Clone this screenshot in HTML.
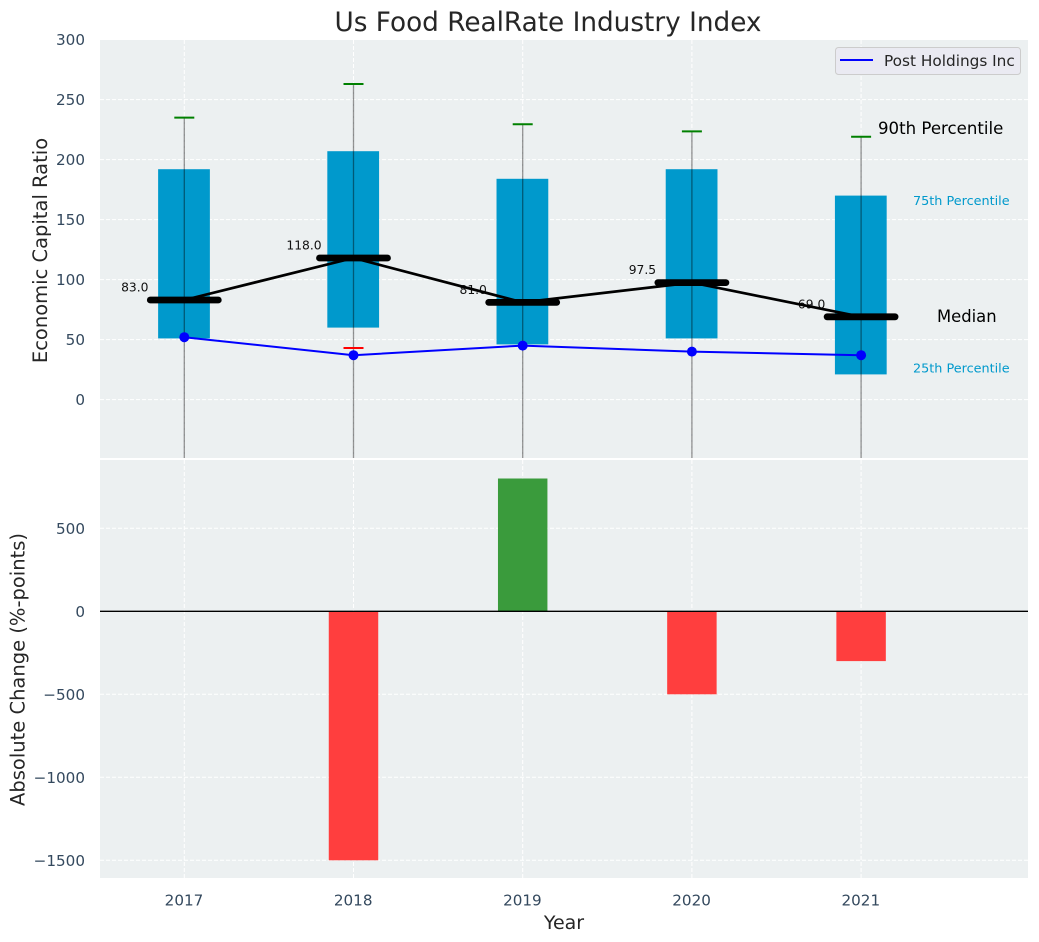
<!DOCTYPE html>
<html lang="en">
<head>
<meta charset="utf-8">
<title>Us Food RealRate Industry Index</title>
<style>
html,body{margin:0;padding:0;background:#fff;width:1039px;height:942px;overflow:hidden}
svg{display:block}
text{font-family:"DejaVu Sans","Liberation Sans",sans-serif}
</style>
</head>
<body>
<svg id="chart" xmlns="http://www.w3.org/2000/svg" width="1039" height="942" viewBox="0 0 1039 942">
  <defs>
    <clipPath id="clip-top"><rect x="100" y="40" width="928" height="418"/></clipPath>
    <clipPath id="clip-bottom"><rect x="100" y="460" width="928" height="418"/></clipPath>
  </defs>
  <rect x="100" y="40" width="928" height="418" fill="#ecf0f1"/>
  <rect x="100" y="460" width="928" height="418" fill="#ecf0f1"/>
  <g id="grid-layer"></g>
  <g id="bottom-layer" clip-path="url(#clip-bottom)"></g>
  <g id="top-layer" clip-path="url(#clip-top)"></g>
  <g id="tick-layer"></g>
  <text x="548" y="31" text-anchor="middle" font-size="26.3" fill="#262626">Us Food RealRate Industry Index</text>
  <text transform="translate(47,250.5) rotate(-90)" text-anchor="middle" font-size="19.5" fill="#262626">Economic Capital Ratio</text>
  <text transform="translate(24.7,669.5) rotate(-90)" text-anchor="middle" font-size="19.5" fill="#262626">Absolute Change (%-points)</text>
  <text x="564" y="929" text-anchor="middle" font-size="19" fill="#262626">Year</text>
  <g>
    <rect x="835.5" y="47.5" width="185" height="27" rx="3" fill="#eaeaf2" stroke="#cccccc"/>
    <line x1="840" y1="60" x2="873" y2="60" stroke="#0000ff" stroke-width="2"/>
    <text x="884" y="66" font-size="15.3" fill="#262626">Post Holdings Inc</text>
  </g>
</svg>
<script>
const years = [2017, 2018, 2019, 2020, 2021];
const p90 = [235, 263, 229.5, 223.5, 219];
const p75 = [192, 207, 184, 192, 170];
const medians = [83, 118, 81, 97.5, 69];
const medianLabels = ["83.0", "118.0", "81.0", "97.5", "69.0"];
const p25 = [51, 60, 46, 51, 21];
const p10 = [-120, 43, -120, -120, -120];
const company = [52, 37, 45, 40, 37];
const changes = [0, -1500, 800, -500, -300];
const topTicks = [0, 50, 100, 150, 200, 250, 300];
const bottomTicks = [-1500, -1000, -500, 0, 500];

const NS = 'http://www.w3.org/2000/svg';
const xScale = v => 184.3 + (v - 2017) * 169.2;
const yTop = v => 399.6 - v * 1.2;
const yBottom = v => 611.3 - v * 0.166;
const BAR = 0.3;
const TOP_END = 458;

function make(tag, parent, attrs, text) {
  const el = document.createElementNS(NS, tag);
  for (const k in attrs) el.setAttribute(k, attrs[k]);
  if (text !== undefined) el.textContent = text;
  parent.appendChild(el);
  return el;
}

const grid = document.getElementById('grid-layer');
const ticks = document.getElementById('tick-layer');
const topLayer = document.getElementById('top-layer');
const bottomLayer = document.getElementById('bottom-layer');
const dash = {stroke: '#ffffff', 'stroke-width': 1, 'stroke-dasharray': '4 2'};

topTicks.forEach(t => {
  if (yTop(t) > 40.5) {
    const g = make('line', grid, {x1: 100, x2: 1028, y1: yTop(t), y2: yTop(t), ...dash});
    
    
  }
  const l = make('text', ticks, {x: 85, y: yTop(t) + 5.5, 'text-anchor': 'end', 'font-size': 15.2, fill: '#34495e'}, String(t));
  
  
});

bottomTicks.forEach(t => {
  const g = make('line', grid, {x1: 100, x2: 1028, y1: yBottom(t), y2: yBottom(t), ...dash});
  
  
  const l = make('text', ticks, {x: 85, y: yBottom(t) + 5.5, 'text-anchor': 'end', 'font-size': 15.2, fill: '#34495e'}, String(t).replace('-', '\u2212'));
  
  
});

years.forEach(y => {
  const g1 = make('line', grid, {x1: xScale(y), x2: xScale(y), y1: 40, y2: 458, ...dash});
  
  
  const g2 = make('line', grid, {x1: xScale(y), x2: xScale(y), y1: 460, y2: 878, ...dash});
  
  
  const l = make('text', ticks, {x: xScale(y) - 0.3, y: 905.5, 'text-anchor': 'middle', 'font-size': 15.2, fill: '#34495e'}, String(y));
  
  
});

years.forEach((y, i) => {
  const v = changes[i];
  const bw = BAR * 169.2 - 1.3;
  const bar = make('rect', bottomLayer, {
    x: xScale(y) - bw / 2,
    y: Math.min(yBottom(0), yBottom(v)),
    width: bw,
    height: Math.abs(yBottom(v) - yBottom(0)),
    fill: v >= 0 ? '#3a9b3c' : '#ff3e3e'
  });
  
  
});
const zeroLine = make('line', bottomLayer, {x1: 100, x2: 1028, y1: yBottom(0), y2: yBottom(0), stroke: '#000000', 'stroke-width': 1.3});



years.forEach((y, i) => {
  const bw = BAR * 169.2 + 1;
  const box = make('rect', topLayer, {
    x: xScale(y) - bw / 2 - 0.3,
    y: yTop(p75[i]),
    width: bw,
    height: yTop(p25[i]) - yTop(p75[i]),
    fill: '#0099cc'
  });
  
  
});

years.forEach((y, i) => {
  const t = make('text', topLayer, {x: xScale(y) - 49.5, y: yTop(medians[i]) - 8.5, 'text-anchor': 'middle', 'font-size': 12.3, fill: '#111111'}, medianLabels[i]);
  
  
});

const medianPath = make('polyline', topLayer, {
  points: years.map((y, i) => xScale(y) + ',' + yTop(medians[i])).join(' '),
  fill: 'none', stroke: '#000000', 'stroke-width': 2.7
});



years.forEach((y, i) => {
  const x = xScale(y);
  const stem = make('line', topLayer, {x1: x, x2: x, y1: yTop(p90[i]), y2: TOP_END, stroke: '#000000', 'stroke-opacity': 0.42, 'stroke-width': 1.3});
  
  
  const hi = make('line', topLayer, {x1: x - 10, x2: x + 10, y1: yTop(p90[i]), y2: yTop(p90[i]), stroke: '#008000', 'stroke-width': 2});
  
  
  const lo = make('line', topLayer, {x1: x - 10, x2: x + 10, y1: yTop(p10[i]), y2: yTop(p10[i]), stroke: '#ff0000', 'stroke-width': 2});
  
  
  const med = make('line', topLayer, {x1: x - 34, x2: x + 34, y1: yTop(medians[i]), y2: yTop(medians[i]), stroke: '#000000', 'stroke-width': 6.8, 'stroke-linecap': 'round'});
  
  
});

const companyPath = make('polyline', topLayer, {
  points: years.map((y, i) => xScale(y) + ',' + yTop(company[i])).join(' '),
  fill: 'none', stroke: '#0000ff', 'stroke-width': 2
});


years.forEach((y, i) => {
  const dot = make('circle', topLayer, {cx: xScale(y), cy: yTop(company[i]), r: 5, fill: '#0000ff'});
  
  
});

const last = years.length - 1;
const a90 = make('text', topLayer, {x: 878, y: yTop(p90[last]) - 3, 'font-size': 16.6, fill: '#000000'}, '90th Percentile');


const a75 = make('text', topLayer, {x: 913, y: yTop(p75[last]) + 9.5, 'font-size': 12.8, fill: '#0099cc'}, '75th Percentile');


const aMed = make('text', topLayer, {x: 937, y: yTop(medians[last]) + 5.3, 'font-size': 16.4, fill: '#000000'}, 'Median');


const a25 = make('text', topLayer, {x: 913, y: yTop(p25[last]) - 2, 'font-size': 12.8, fill: '#0099cc'}, '25th Percentile');


</script>
</body>
</html>
